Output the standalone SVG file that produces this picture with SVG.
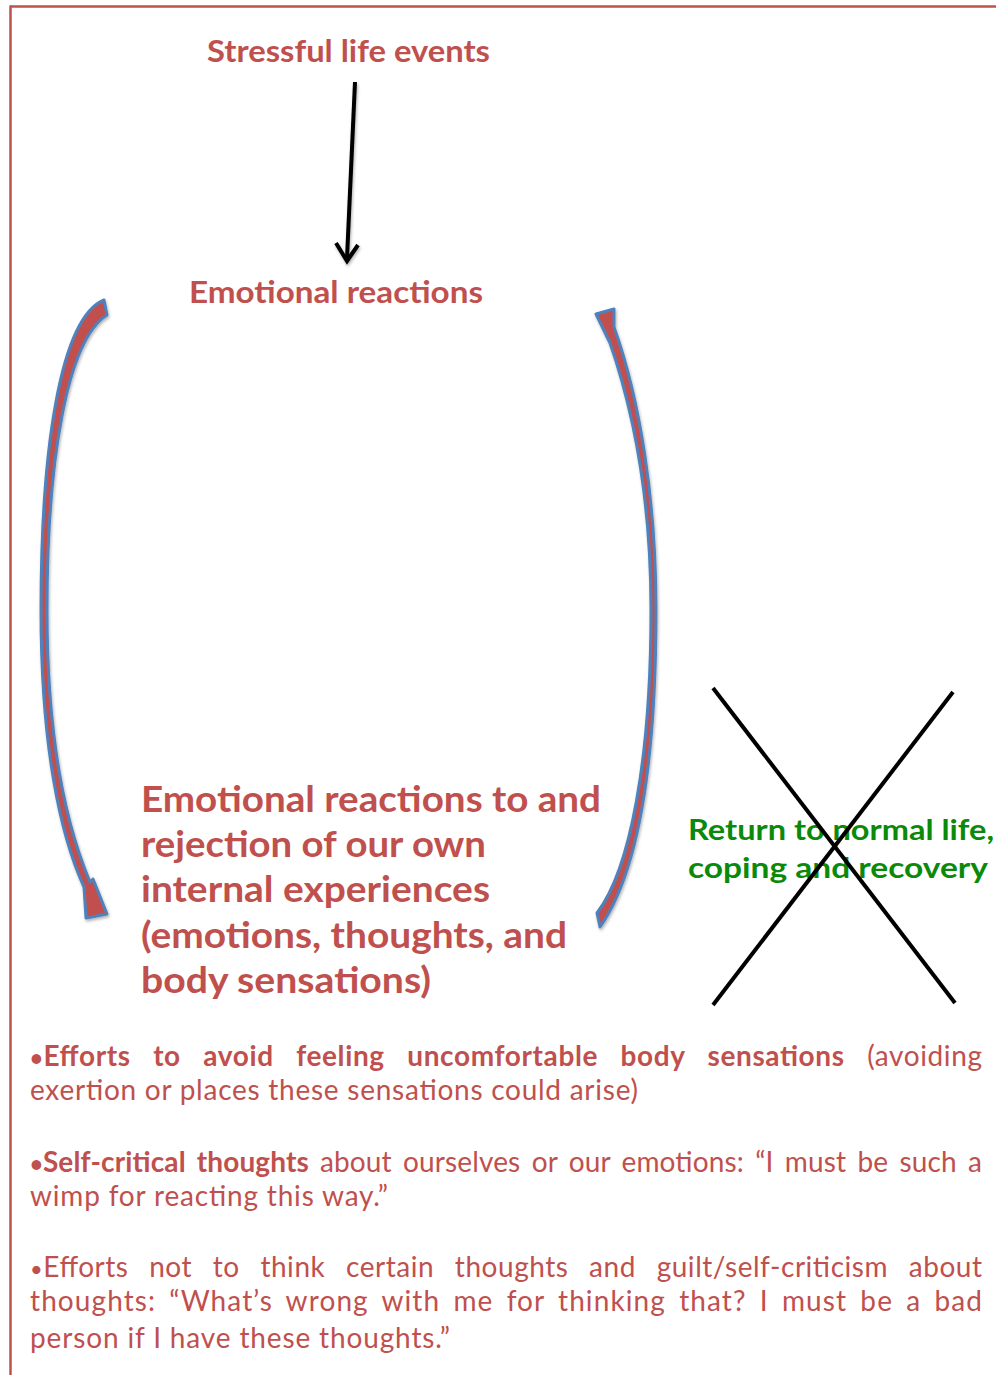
<svg xmlns="http://www.w3.org/2000/svg" width="996" height="1375" viewBox="0 0 996 1375">
<style>
.h{font-family:Lato,"Noto Sans","Liberation Sans",sans-serif;font-weight:700;fill:#C0504D}
.g{font-family:Lato,"Noto Sans","Liberation Sans",sans-serif;font-weight:700;fill:#0A8A0A;font-size:29px}
.b{font-family:Lato,"Noto Sans","Liberation Sans",sans-serif;font-size:28px;fill:#C0504D;font-weight:400}
.bb{font-weight:700}
.dot{font-size:22px}
.ca{fill:#C0504D;stroke:#4F81BD;stroke-width:3;stroke-linejoin:round}
</style>
<defs>
<filter id="sh" x="-20%" y="-20%" width="140%" height="140%"><feDropShadow dx="1" dy="2" stdDeviation="1.5" flood-color="#000" flood-opacity="0.3"/></filter>
</defs>
<g id="frame" fill="none" stroke="#C0504D" stroke-width="2.5">
<line x1="10" y1="6.5" x2="996" y2="6.5"/>
<line x1="10.5" y1="5.5" x2="10.5" y2="1375"/>
</g>
<g id="stressful"><text class="h" x="207" y="62" font-size="30" textLength="283" lengthAdjust="spacingAndGlyphs">Stressful life events</text></g>
<g id="emotional"><text class="h" x="189" y="303" font-size="30" textLength="294" lengthAdjust="spacingAndGlyphs">Emotional reactions</text></g>
<g id="rejection">
<text class="h" font-size="36" x="141" y="812" textLength="460" lengthAdjust="spacingAndGlyphs">Emotional reactions to and</text>
<text class="h" font-size="36" x="141" y="857" textLength="345" lengthAdjust="spacingAndGlyphs">rejection of our own</text>
<text class="h" font-size="36" x="141" y="902" textLength="349" lengthAdjust="spacingAndGlyphs">internal experiences</text>
<text class="h" font-size="36" x="141" y="948" textLength="426" lengthAdjust="spacingAndGlyphs">(emotions, thoughts, and</text>
<text class="h" font-size="36" x="141" y="993" textLength="290" lengthAdjust="spacingAndGlyphs">body sensations)</text>
</g>
<g id="return">
<text class="g" x="688" y="840" textLength="306" lengthAdjust="spacingAndGlyphs">Return to normal life,</text>
<text class="g" x="688" y="878" textLength="300" lengthAdjust="spacingAndGlyphs">coping and recovery</text>
</g>
<g id="connectors">
<g filter="url(#sh)">
<path d="M355,82 L347,258" fill="none" stroke="#000" stroke-width="4"/>
<path d="M336,243 L347,261 L358,245" fill="none" stroke="#000" stroke-width="4" stroke-linejoin="miter"/>
</g>
<path class="ca" filter="url(#sh)" d="M104,300 C60,318 41,450 41,610 C41,745 60,835 84,887 L86,918 L107,914 L93,879 L90,882 C68,830 47,745 47,610 C47,460 67,340 107,315 Z"/>
<path class="ca" filter="url(#sh)" d="M596,314 L614,309 L614,327 C640,400 656,500 656,610 C656,760 640,870 600,927 L597,913 C630,870 651,760 651,610 C651,510 637,420 609,340 L610,343 Z"/>
<g id="cross" stroke="#000" stroke-width="4">
<line x1="713" y1="688" x2="955" y2="1003"/>
<line x1="953" y1="692" x2="713" y2="1005"/>
</g>
</g>
<g id="bullets">
<text class="b" x="30" y="1066" word-spacing="15" textLength="952" lengthAdjust="spacing"><tspan class="bb dot">•</tspan><tspan class="bb">Efforts </tspan><tspan class="bb">to </tspan><tspan class="bb">avoid </tspan><tspan class="bb">feeling </tspan><tspan class="bb">uncomfortable </tspan><tspan class="bb">body </tspan><tspan class="bb">sensations </tspan><tspan>(avoiding</tspan></text>
<text class="b" x="30" y="1100" textLength="608" lengthAdjust="spacing"><tspan>exertion </tspan><tspan>or </tspan><tspan>places </tspan><tspan>these </tspan><tspan>sensations </tspan><tspan>could </tspan><tspan>arise)</tspan></text>
<text class="b" x="30" y="1172" word-spacing="4" textLength="952" lengthAdjust="spacing"><tspan class="bb dot">•</tspan><tspan class="bb">Self-critical </tspan><tspan class="bb">thoughts </tspan><tspan>about </tspan><tspan>ourselves </tspan><tspan>or </tspan><tspan>our </tspan><tspan>emotions: </tspan><tspan>“I </tspan><tspan>must </tspan><tspan>be </tspan><tspan>such </tspan><tspan>a</tspan></text>
<text class="b" x="30" y="1206" textLength="358" lengthAdjust="spacing"><tspan>wimp </tspan><tspan>for </tspan><tspan>reacting </tspan><tspan>this </tspan><tspan>way.”</tspan></text>
<text class="b" x="30" y="1277" word-spacing="13" textLength="952" lengthAdjust="spacing"><tspan class="dot">•</tspan><tspan>Efforts </tspan><tspan>not </tspan><tspan>to </tspan><tspan>think </tspan><tspan>certain </tspan><tspan>thoughts </tspan><tspan>and </tspan><tspan>guilt/self-criticism </tspan><tspan>about</tspan></text>
<text class="b" x="30" y="1311" word-spacing="5" textLength="952" lengthAdjust="spacing"><tspan>thoughts: </tspan><tspan>“What’s </tspan><tspan>wrong </tspan><tspan>with </tspan><tspan>me </tspan><tspan>for </tspan><tspan>thinking </tspan><tspan>that? </tspan><tspan>I </tspan><tspan>must </tspan><tspan>be </tspan><tspan>a </tspan><tspan>bad</tspan></text>
<text class="b" x="30" y="1348" textLength="420" lengthAdjust="spacing"><tspan>person </tspan><tspan>if </tspan><tspan>I </tspan><tspan>have </tspan><tspan>these </tspan><tspan>thoughts.”</tspan></text>
</g>
</svg>
